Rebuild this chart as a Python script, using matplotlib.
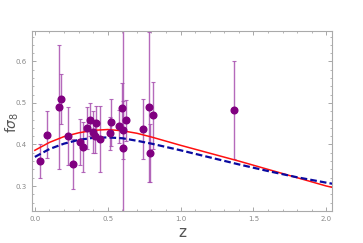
import matplotlib
matplotlib.use("Agg")
import matplotlib.pyplot as plt
from matplotlib.ticker import MultipleLocator

# growth-rate data points: z, f*sigma8, error
z_data = [0.036, 0.082, 0.165, 0.18, 0.23, 0.26, 0.31, 0.33, 0.36, 0.38, 0.396, 0.41,
          0.42, 0.45, 0.513, 0.52, 0.58, 0.60, 0.607, 0.607, 0.623, 0.74, 0.78, 0.79,
          0.81, 1.366]
fs8_data = [0.360, 0.424, 0.490, 0.510, 0.420, 0.353, 0.406, 0.394, 0.440, 0.460, 0.430, 0.420,
            0.452, 0.413, 0.427, 0.453, 0.444, 0.489, 0.434, 0.391, 0.458, 0.438, 0.490, 0.380,
            0.470, 0.483]
fs8_err = [0.040, 0.056, 0.150, 0.060, 0.070, 0.060, 0.055, 0.060, 0.050, 0.040, 0.050, 0.040,
           0.040, 0.080, 0.040, 0.056, 0.040, 0.060, 0.070, 0.450, 0.050, 0.072, 0.180, 0.070,
           0.080, 0.117]

# model curves
z_curve = [0.0, 0.1, 0.2, 0.3, 0.4, 0.5, 0.6, 0.7, 0.8, 0.9, 1.0, 1.2, 1.4, 1.6, 1.8, 2.0, 2.05]
fs8_red = [0.386, 0.405, 0.419, 0.428, 0.434, 0.436, 0.433, 0.427, 0.418, 0.408, 0.398,
           0.379, 0.360, 0.340, 0.320, 0.300, 0.296]
fs8_blue = [0.370, 0.389, 0.402, 0.411, 0.416, 0.417, 0.415, 0.409, 0.402, 0.394, 0.386,
            0.369, 0.352, 0.336, 0.321, 0.308, 0.305]

fig = plt.figure(figsize=(3.63, 2.43), dpi=100)
ax = fig.add_axes([0.088, 0.132, 0.827, 0.740])

ax.errorbar(z_data, fs8_data, yerr=fs8_err, fmt='none', ecolor='#a850b0', elinewidth=1.0,
            capsize=1.5, capthick=0.8, alpha=0.85, zorder=2)
ax.plot(z_data, fs8_data, 'o', color='#800080', ms=4.8, zorder=5)
ax.plot(z_curve, fs8_red, '-', color='#ff1010', lw=1.1, zorder=3)
ax.plot(z_curve, fs8_blue, '--', color='#0a0aa0', lw=1.6, dashes=(3, 1.4), zorder=4)

ax.set_xlim(-0.02, 2.04)
ax.set_ylim(0.24, 0.673)
ax.xaxis.set_major_locator(MultipleLocator(0.5))
ax.xaxis.set_minor_locator(MultipleLocator(0.1))
ax.yaxis.set_major_locator(MultipleLocator(0.1))
ax.yaxis.set_minor_locator(MultipleLocator(0.02))
ax.tick_params(which='both', direction='in', top=True, right=True, color='#999999',
               labelsize=5, labelcolor='#888888')
ax.tick_params(which='major', length=3, width=0.6)
ax.tick_params(which='minor', length=1.5, width=0.5)
for sp in ax.spines.values():
    sp.set_color('#aaaaaa')
    sp.set_linewidth(0.8)

ax.set_xlabel('z', fontsize=11, color='#555555', labelpad=2)
ax.set_ylabel(r'f$\sigma_8$', fontsize=10, color='#555555')
ax.yaxis.set_label_coords(-0.035, 0.49)

fig.savefig('out.png', dpi=100)
